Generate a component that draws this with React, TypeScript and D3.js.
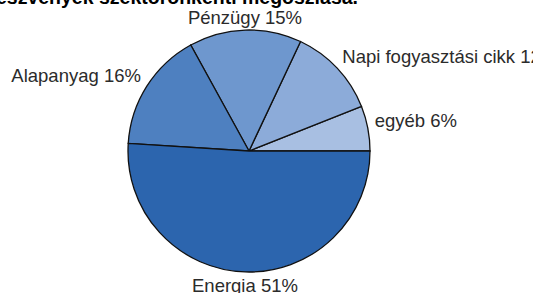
import React, { useMemo } from 'react'
import * as d3 from 'd3'

// sectors, counterclockwise from 3 o'clock
const sectors = ['egyéb', 'Napi fogyasztási cikk', 'Pénzügy', 'Alapanyag', 'Energia']
const shares = [6, 12, 15, 16, 51]
const colors = ['#a8bfe2', '#8cabd9', '#6e97ce', '#4e80c0', '#2c65ae']
const title = 'Részvények szektoronkénti megoszlása.'

const width = 533
const height = 293
const cx = 249
const cy = 151
const radius = 121

interface Slice {
  name: string
  value: number
  color: string
}

const App: React.FC = () => {
  const slices: Slice[] = sectors.map((name, i) => ({ name, value: shares[i], color: colors[i] }))

  const arcs = useMemo(
    () =>
      d3
        .pie<Slice>()
        .sort(null)
        .value(d => d.value)
        .startAngle(Math.PI / 2)
        .endAngle(Math.PI / 2 - 2 * Math.PI)(slices),
    [slices]
  )

  const arcGen = d3.arc<d3.PieArcDatum<Slice>>().innerRadius(0).outerRadius(radius)

  return (
    <svg
      width={width}
      height={height}
      style={{ position: 'absolute', left: 0, top: 0, display: 'block', background: '#fff' }}
    >
      <text
        x={358}
        y={4}
        textAnchor="end"
        fontFamily="Arial, 'Liberation Sans', sans-serif"
        fontWeight="bold"
        fontSize={19.5}
        fill="#000"
      >
        {title}
      </text>
      <g transform={`translate(${cx},${cy})`}>
        {arcs.map(a => (
          <path key={a.data.name} d={arcGen(a) || ''} fill={a.data.color} stroke="#111" strokeWidth={1.3} />
        ))}
      </g>
      {arcs.map(a => {
        // d3 angle: 0 at 12 o'clock, clockwise
        const mid = (a.startAngle + a.endAngle) / 2
        const sx = Math.sin(mid)
        const cyv = -Math.cos(mid)
        const r = radius + 7
        const x = cx + r * sx
        const y = cy + r * cyv
        let anchor = sx > 0 ? 'start' : 'end'
        let dy = 0
        if (Math.abs(sx) < 0.2) {
          anchor = 'middle'
          dy = cyv < 0 ? 1 : 13
        }
        return (
          <text
            key={a.data.name}
            x={x}
            y={y + dy}
            textAnchor={anchor}
            fontFamily="Arial, 'Liberation Sans', sans-serif"
            fontSize={18.5}
            fill="#2b2b2b"
          >
            {`${a.data.name} ${a.data.value}%`}
          </text>
        )
      })}
    </svg>
  )
}

export default App
